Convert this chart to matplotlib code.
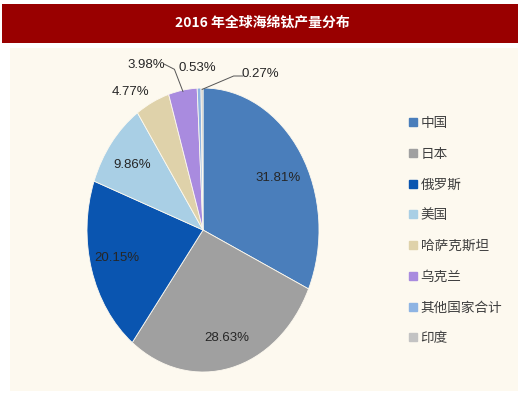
import matplotlib
matplotlib.use("Agg")
import matplotlib.pyplot as plt
from matplotlib.patches import Rectangle
from matplotlib.lines import Line2D
from matplotlib.font_manager import FontProperties
import numpy as np

# ---- data ----
title = "2016 年全球海绵钛产量分布"
categories = ["中国", "日本", "俄罗斯", "美国", "哈萨克斯坦", "乌克兰", "其他国家合计", "印度"]
shares = [31.81, 28.63, 20.15, 9.86, 4.77, 3.98, 0.53, 0.27]
colors = ["#4A7EBB", "#A0A0A0", "#0A55B0", "#A9CFE5", "#DFD2AA", "#A98BDF", "#8EB4E3", "#C3C3C3"]

W, H = 520, 398
fig = plt.figure(figsize=(W / 100, H / 100), dpi=100)
fig.patch.set_facecolor("white")

def fx(x):
    return x / W

def fy(y):
    return 1 - y / H

# title bar
fig.add_artist(Rectangle((fx(2), fy(43)), 516 / W, 39 / H, transform=fig.transFigure,
                         facecolor="#990000", edgecolor="none", zorder=-10))
# cream panel
fig.add_artist(Rectangle((fx(10), fy(391)), 508 / W, 343 / H, transform=fig.transFigure,
                         facecolor="#FDF9EF", edgecolor="none", zorder=-10))

fig.text(fx(262), fy(23), title, color="white", fontsize=10, fontweight="bold",
         family=["Noto Sans CJK SC", "DejaVu Sans"], ha="center", va="center")

# pie axes (elliptical pie)
cx, cy, rx, ry = 203, 230, 116, 142
ax = fig.add_axes([fx(cx - rx), fy(cy + ry), 2 * rx / W, 2 * ry / H])
ax.patch.set_visible(False)
wedges, texts, autotexts = ax.pie(
    shares, colors=colors, startangle=90, counterclock=False,
    autopct="%.2f%%", pctdistance=0.77,
    wedgeprops=dict(edgecolor="#FDF9EF", linewidth=0.6),
    textprops=dict(family=["Liberation Sans Narrow", "Liberation Sans", "DejaVu Sans"],
                   fontsize=9.5, color="#262626"))
ax.set_xlim(-1, 1)
ax.set_ylim(-1, 1)
ax.set_aspect("auto")
ax.axis("off")

def to_data(px, py):
    return ((px - cx) / rx, (cy - py) / ry)

# label layout (pixel positions of label centres)
label_px = [(278, 178), (227, 338), (117, 258), (132, 165),
            (130, 92), (146, 65), (197, 68), (260, 74)]
for t, v, p in zip(autotexts, shares, label_px):
    t.set_text(f"{v:.2f}%")
    t.set_position(to_data(*p))
    t.set_ha("center")
    t.set_va("center")

def wedge_edge(w, r=1.0):
    ang = np.deg2rad((w.theta1 + w.theta2) / 2)
    return (r * np.cos(ang), r * np.sin(ang))

# leader lines for Ukraine and India
lead = dict(arrowstyle="-", color="#555555", lw=0.7, shrinkA=0, shrinkB=0)
ax.annotate("", xy=wedge_edge(wedges[5], 0.99), xytext=to_data(164, 64),
            arrowprops=dict(**lead, connectionstyle="angle,angleA=-27,angleB=111,rad=0"))
ax.annotate("", xy=wedge_edge(wedges[7], 0.99), xytext=to_data(243, 76),
            arrowprops=dict(**lead, connectionstyle="angle,angleA=0,angleB=23,rad=0"))

# legend
handles = [Line2D([], [], marker="s", linestyle="", markerfacecolor=c, markeredgecolor=c,
                  markersize=5.5) for c in colors]
fig.legend(handles, categories, loc="upper left", bbox_to_anchor=(fx(409), fy(116)),
           frameon=False, handlelength=0.55, handletextpad=0.3, labelspacing=1.23,
           borderpad=0, borderaxespad=0, labelcolor="#404040",
           prop=FontProperties(family=["Noto Sans CJK SC", "DejaVu Sans"], size=9.8))

fig.savefig("out.png", dpi=100, facecolor="white")
